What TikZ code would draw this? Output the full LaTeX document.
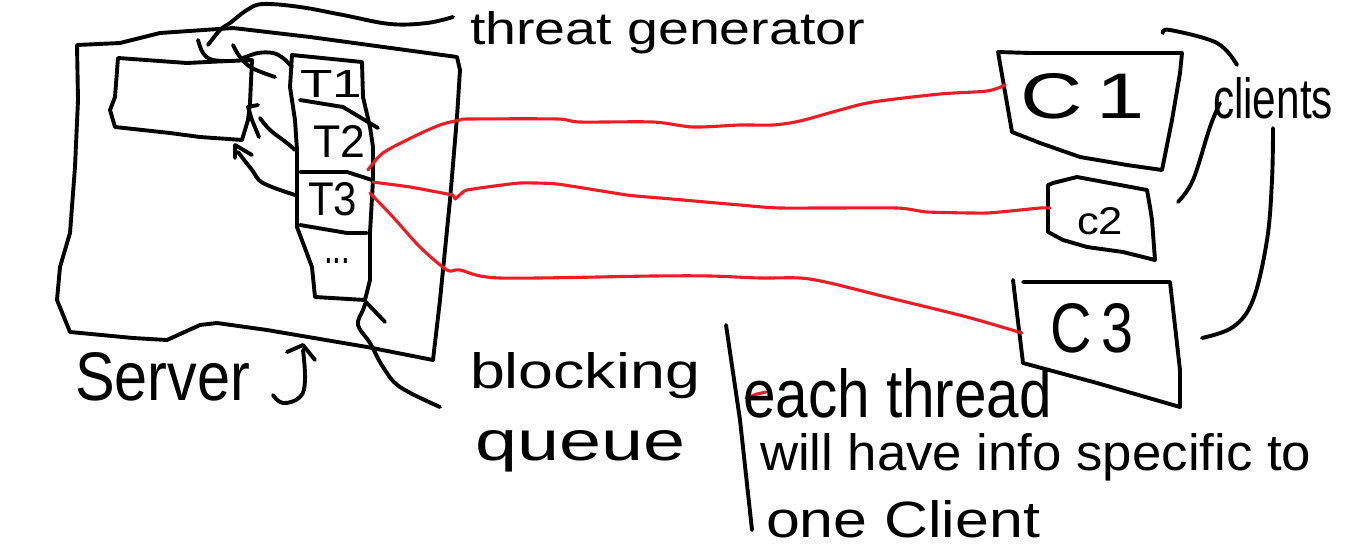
\documentclass[tikz,border=0pt]{standalone}
\usepackage{fontspec}
\setmainfont{Liberation Sans}
\usepackage{graphicx}
\definecolor{paintred}{RGB}{237,28,36}
\newcommand\hw[3]{\resizebox{#1pt}{#2pt}{#3}}
\begin{document}
\begin{tikzpicture}[x=1pt,y=-1pt,
  ink/.style={draw=black,line width=3.9pt,line join=round,line cap=round},
  redline/.style={draw=paintred,line width=3.1pt,line join=round,line cap=round},
  lbl/.style={anchor=base west,inner sep=0pt,outer sep=0pt}]
\useasboundingbox[fill=white] (0,0) rectangle (1360,554);

% server box
\draw[ink] (77,45) -- (120,43) -- (160,33) -- (233,28) -- (310,37) -- (457,57) -- (460,70) -- (457,117) -- (450,200) -- (440,300) -- (433,360)
  -- (367,347) -- (267,330) -- (217,323) -- (200,325) -- (167,340) -- (133,338) -- (70,332) -- (57,300) -- (60,267) -- (70,233) -- (75,167) -- (78,100) -- cycle;
% thread generator box
\draw[ink] (118,58) -- (187,63) -- (207,62) -- (252,60) -- (250,103) -- (248,120) -- (242,140) -- (200,137) -- (170,133) -- (115,127) -- (110,110) -- (115,97) -- cycle;
% blocking queue
\draw[ink] (292,55) -- (362,62) -- (363,97) -- (370,127) -- (373,147) -- (373,180) -- (370,233) -- (370,280) -- (365,300)
  -- (315,297) -- (312,267) -- (303,243) -- (297,227) -- (297,150) -- (295,120) -- (290,87) -- cycle;
\draw[ink] (300,100) -- (343,107) -- (378,128);
\draw[ink] (300,172) -- (347,172) -- (372,180);
\draw[ink] (300,225) -- (347,233) -- (367,233);

% queue cell labels
\node[lbl] (t1) at (300,97) {\hw{62}{27}{T1}};
\node[lbl] (t2) at (313,157) {\hw{52}{32}{T2}};
\node[lbl] (t3) at (308,215) {\hw{49}{33}{T3}};
\node[lbl] (dots) at (324,263) {\hw{26}{5}{...}};

% arrows from queue to generator
\draw[ink] plot[smooth,tension=0.6] coordinates {(233,45) (240,57) (252,68) (275,77)};
\draw[ink] plot[smooth,tension=0.6] coordinates {(243,58) (258,53) (273,53) (283,58) (292,67)};
\draw[ink] plot[smooth,tension=0.6] coordinates {(198,40) (203,53) (213,60) (235,61)};
\draw[ink] plot[smooth,tension=0.6] coordinates {(260,118) (270,130) (287,143) (295,150)};
\draw[ink] (258,105) -- (248,107) -- (252,120) -- (259,137);
\draw[ink] plot[smooth,tension=0.6] coordinates {(238,152) (252,170) (263,183) (295,195)};
\draw[ink] (235,158) -- (235,145) -- (252,155);

% thread generator label and pointer
\node[lbl] (genlbl) at (470,45) {\hw{395}{33}{threat generator}};
\draw[ink] plot[smooth,tension=0.6] coordinates {(453,17) (427,23) (390,24) (343,15) (300,7) (263,4) (247,10) (230,23) (220,30) (208,45)};

% server label with pointer
\node[lbl] (srvlbl) at (75,400) {\hw{175}{48}{Server}};
\draw[ink] plot[smooth,tension=0.7] coordinates {(273,395) (283,403) (300,397) (305,380) (303,350)};
\draw[ink] (287,352) -- (303,345) -- (315,360);

% blocking queue label with pointer
\node[lbl] (bq1) at (470,388) {\hw{230}{36}{blocking}};
\node[lbl] (bq2) at (475,460) {\hw{210}{30}{queue}};
\draw[ink] plot[smooth,tension=0.6] coordinates {(440,407) (400,387) (383,367) (370,343) (358,325) (363,310) (366,302)};
\draw[ink] (366,302) -- (385,322);

% clients
\draw[ink] (998,52) -- (1030,53) -- (1117,53) -- (1182,53) -- (1180,73) -- (1172,120) -- (1162,170) -- (1127,165) -- (1080,157) -- (1040,143) -- (1012,132) -- cycle;
\draw[ink] (1048,185) -- (1053,183) -- (1077,177) -- (1147,190) -- (1150,207) -- (1152,220) -- (1155,260) -- (1123,252) -- (1087,247) -- (1063,240) -- (1048,232) -- cycle;
\draw[ink] (1013,280) -- (1023,363) -- (1097,383) -- (1180,407) -- (1180,370) -- (1170,282) -- (1023,282);
\node[lbl] (c1lbl) at (1020,118) {\hw{125}{45}{C\,1}};
\node[lbl] (c2lbl) at (1077,234) {\hw{46}{27}{c2}};
\node[lbl] (c3lbl) at (1050,352) {\hw{83}{49}{C\,3}};

% clients brace and label
\node[lbl] (clientslbl) at (1213,118) {\hw{120}{41}{clients}};
\draw[ink] plot[smooth,tension=0.6] coordinates {(1163,33) (1170,30) (1217,43) (1237,65)};
\draw[ink] plot[smooth,tension=0.6] coordinates {(1178,202) (1193,180) (1210,127) (1220,103)};
\draw[ink] plot[smooth,tension=0.6] coordinates {(1273,128) (1272,180) (1267,240) (1253,300) (1233,327) (1202,338)};

% connectors queue -> clients
\coordinate (t2out) at (368,170);
\coordinate (t3outa) at (373,182);
\coordinate (t3outb) at (370,193);
\coordinate (c1in) at (1005,85);
\coordinate (c2in) at (1050,208);
\coordinate (c3in) at (1022,333);
\draw[redline] plot[smooth,tension=0.5] coordinates {(t2out) (383,153) (413,137) (440,125) (460,120) (470,119) (557,119) (580,122) (653,122) (693,127) (740,125) (773,125) (800,121) (840,110) (873,102) (940,94) (987,91) (c1in)};
\draw[redline] plot[smooth,tension=0.3] coordinates {(t3outa) (380,183) (410,187) (452,195) (455,199) (463,192) (467,190) (487,187) (520,183) (557,184) (627,195) (660,198) (740,205) (780,208) (897,208) (927,212) (987,213) (1040,208) (c2in)};
\draw[redline] plot[smooth,tension=0.5] coordinates {(t3outb) (393,217) (420,247) (447,270) (460,270) (500,278) (653,276) (710,276) (760,278) (800,278) (830,283) (890,298) (967,317) (c3in)};

% note
\draw[ink] (726,325) -- (740,420) -- (752,530);
\draw[redline] (746,398) -- (757,394) -- (766,392);
\node[lbl] (note1) at (743,417) {\hw{309}{49}{each thread}};
\node[lbl] (note2) at (760,470) {\hw{551}{37}{will have info specific to}};
\node[lbl] (note3) at (766,537) {\hw{274}{37}{one Client}};
\end{tikzpicture}
\end{document}
